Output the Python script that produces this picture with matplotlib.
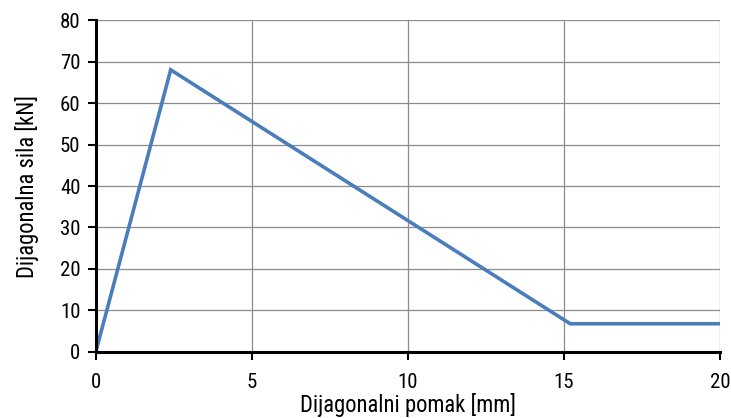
import matplotlib.pyplot as plt

# displacement [mm] and force [kN]
pomak = [0, 2.4, 15.2, 20]
sila = [0, 68, 6.8, 6.8]

x_ticks = [0, 5, 10, 15, 20]
y_ticks = [0, 10, 20, 30, 40, 50, 60, 70, 80]

plt.rcParams['font.family'] = ['Roboto Condensed', 'Liberation Sans', 'DejaVu Sans']

fig = plt.figure(figsize=(7.31, 4.18), dpi=100)
ax = fig.add_axes([0.131, 0.158, 0.854, 0.794])

ax.plot(pomak, sila, color="#4a7ebb", linewidth=2.6, solid_joinstyle="miter")

ax.set_xlim(0, 20)
ax.set_ylim(0, 80)
ax.set_xticks(x_ticks)
ax.set_yticks(y_ticks)
ax.grid(True, color="#8c8c8c", linewidth=0.9)
ax.set_axisbelow(True)

for s in ["top", "right"]:
    ax.spines[s].set_visible(False)
for s in ["left", "bottom"]:
    ax.spines[s].set_linewidth(2.2)
    ax.spines[s].set_color("black")

ax.tick_params(axis="both", direction="out", length=6, width=1.5, labelsize=15)
ax.tick_params(axis="x", pad=9)
ax.tick_params(axis="y", pad=5)

ax.set_xlabel("Dijagonalni pomak [mm]", fontsize=16.3, labelpad=1)
ax.set_ylabel("Dijagonalna sila [kN]", fontsize=16.3, labelpad=15)

fig.savefig("out.png", dpi=100)
